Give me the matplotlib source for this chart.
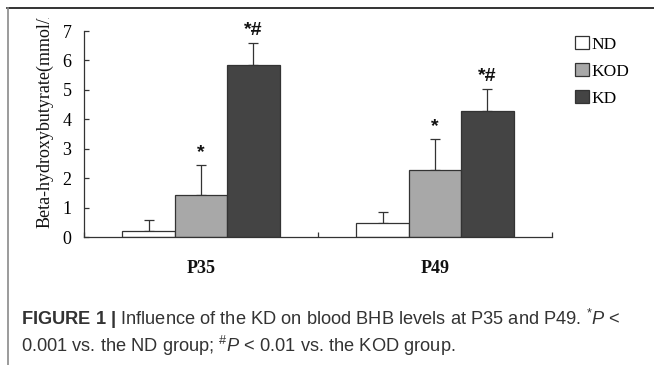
import numpy as np
import matplotlib.pyplot as plt
from matplotlib.lines import Line2D
from matplotlib.transforms import Bbox

# data
groups = ["P35", "P49"]
series = ["ND", "KOD", "KD"]
nd_mean = [0.20, 0.50]
nd_err = [0.38, 0.37]
kod_mean = [1.44, 2.28]
kod_err = [1.02, 1.04]
kd_mean = [5.83, 4.29]
kd_err = [0.75, 0.75]
marks = [["", "*", "*#"], ["", "*", "*#"]]
yticks = [0, 1, 2, 3, 4, 5, 6, 7]

cap_font = "Liberation Sans"
plt.rcParams["mathtext.fontset"] = "custom"
plt.rcParams["mathtext.rm"] = cap_font
plt.rcParams["mathtext.it"] = cap_font + ":italic"
plt.rcParams["mathtext.bf"] = cap_font + ":bold"

W, H = 654, 365
fig = plt.figure(figsize=(W / 100, H / 100), dpi=100)
serif = "Liberation Serif"

# outer frame of the figure panel
fig.add_artist(Line2D([7 / W, 1], [1 - 8 / H] * 2, color="#111111", lw=1.2))
fig.add_artist(Line2D([7.5 / W] * 2, [0, 1 - 8 / H], color="#8a8a8a", lw=1.2))

ax = fig.add_axes([84 / W, 1 - 237.3 / H, 468 / W, 206.3 / H])
means = [nd_mean, kod_mean, kd_mean]
errs = [nd_err, kod_err, kd_err]
colors = ["white", "#a8a8a8", "#444444"]
w = 0.224
x = np.arange(len(groups)) + 0.5
for i, (m, e, c, lab) in enumerate(zip(means, errs, colors, series)):
    xs = x + (i - 1) * w
    ax.bar(xs, m, width=w, color=c, edgecolor="#333333", lw=0.9, label=lab, zorder=2)
    ax.errorbar(xs, m, yerr=[np.zeros(len(m)), e], fmt="none", ecolor="#333333",
                elinewidth=0.9, capsize=3.5, capthick=0.9, zorder=1)
    for j in range(len(groups)):
        txt = marks[j][i]
        if txt:
            ax.annotate(txt, (xs[j], m[j] + e[j]), xytext=(0, 3), textcoords="offset points",
                        ha="center", va="bottom", fontsize=14, fontweight="bold",
                        family="Liberation Sans", color="#111111")

ax.set_xlim(0, 2)
ax.set_ylim(0, 7)
ax.set_xticks([0, 1, 2])
ax.set_xticklabels([])
ax.set_yticks(yticks)
ax.set_yticklabels([str(t) for t in yticks], family=serif, fontsize=13)
ax.tick_params(direction="in", length=3.5, width=0.9, color="#333333", pad=9)
for s in ["top", "right"]:
    ax.spines[s].set_visible(False)
for s in ["left", "bottom"]:
    ax.spines[s].set_color("#333333")
    ax.spines[s].set_linewidth(0.9)

for xi, g in zip(x, groups):
    ax.text(xi, -0.149, g, transform=ax.get_xaxis_transform(), ha="center", va="center",
            family=serif, fontweight="bold", fontsize=13, color="#111111")

yl = fig.text(45 / W, 1 - 228 / H, "Beta-hydroxybutyrate(mmol/L)", rotation=90,
              ha="center", va="bottom", family=serif, fontsize=13, color="#111111")
# the label runs past the panel top in the reference and is cut off there
yl.set_clip_box(Bbox.from_extents(0, 0, W, H - 18))

fig.legend(loc="upper left", bbox_to_anchor=(575 / W, 1 - 36 / H), frameon=False,
           handlelength=0.8, handleheight=0.8, handletextpad=0.15, labelspacing=0.6,
           prop={"family": serif, "size": 12.5}, borderaxespad=0, borderpad=0)

cap1 = (r"$\mathbf{FIGURE\ 1\ |}$ Influence of the KD on blood BHB levels at P35 and P49. "
        r"$^{*}\mathit{P}$ <")
cap2 = r"0.001 vs. the ND group; $^{\#}\mathit{P}$ < 0.01 vs. the KOD group."
caps = []
for yy, cap in [(319, cap1), (346, cap2)]:
    caps.append(fig.text(21 / W, 1 - yy / H, cap, ha="left", va="center", family=cap_font,
                         fontsize=12, color="#333333"))

# size the caption so the first line spans the same width as in the reference
r = fig.canvas.get_renderer()
wpx = caps[0].get_window_extent(r).width
fs = 12 * 599 / wpx
for t in caps:
    t.set_fontsize(fs)

fig.savefig("out.png", dpi=100)
